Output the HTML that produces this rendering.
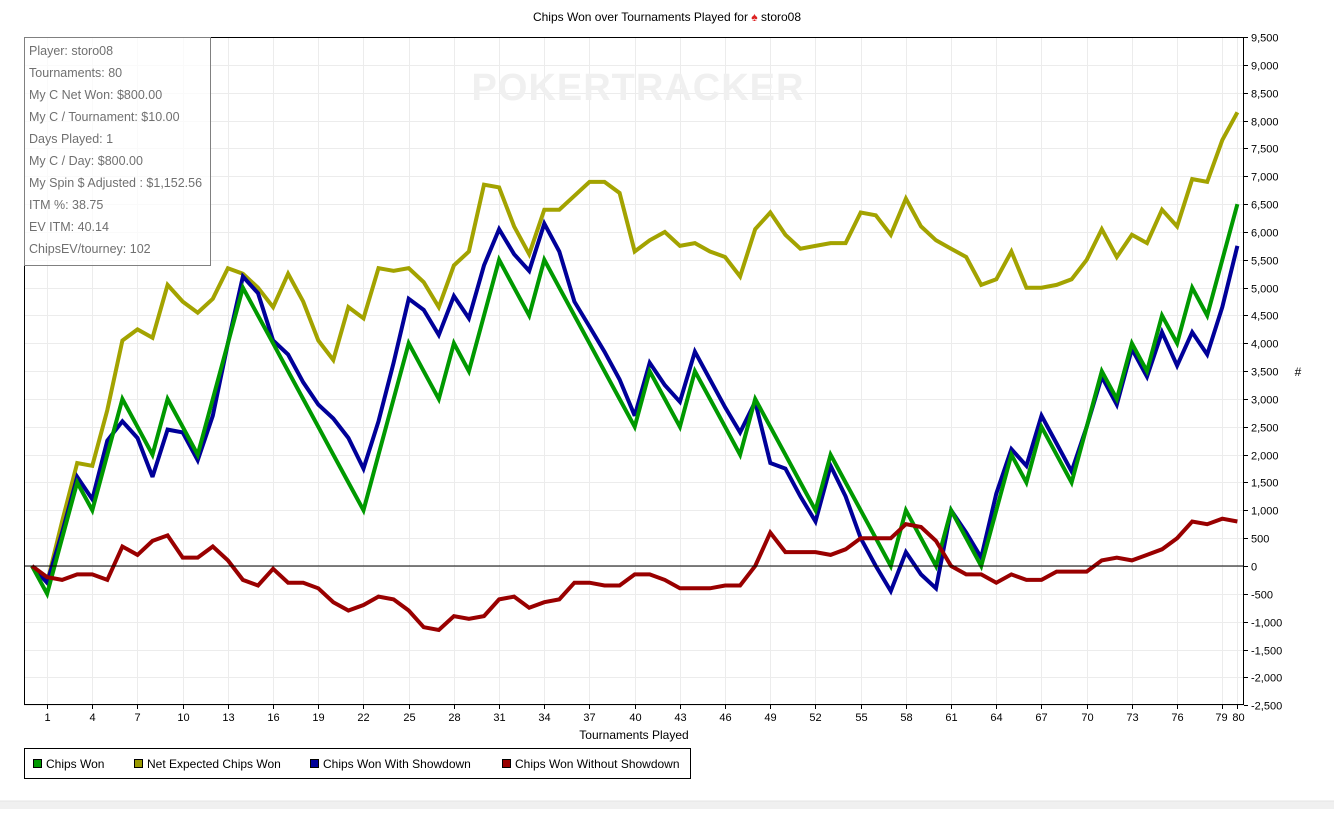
<!DOCTYPE html>
<html><head><meta charset="utf-8"><style>
html,body{margin:0;padding:0;background:#fff;}
body{width:1334px;height:809px;overflow:hidden;position:relative;font-family:"Liberation Sans",sans-serif;}
svg text{font-family:"Liberation Sans",sans-serif;}
</style></head><body>
<svg id="s" width="1334" height="809" xmlns="http://www.w3.org/2000/svg">
<rect x="0" y="801" width="1334" height="8" fill="#f0f0f0"/>
<line x1="0" y1="801" x2="1334" y2="801" stroke="#e4e4e4"/>
<g id="grid"></g>
<text x="638" y="100" font-size="38" font-weight="bold" fill="#f0f0f0" text-anchor="middle" letter-spacing="1">POKERTRACKER</text>
<g id="series"></g>
<rect x="24.5" y="37.5" width="1219" height="667" fill="none" stroke="#000"/>
<line x1="24" y1="566" x2="1244" y2="566" stroke="#000"/>
<g id="axes"></g>
<text x="667" y="21" font-size="12" text-anchor="middle">Chips Won over Tournaments Played for <tspan fill="#d22">♠</tspan> storo08</text>
<text x="634" y="739" font-size="12" text-anchor="middle">Tournaments Played</text>
<text x="1298" y="376" font-size="12" text-anchor="middle">#</text>
<rect x="24.5" y="37.5" width="186" height="228" fill="#fff" fill-opacity="0.75" stroke="#808080"/>
<g font-size="12.5" fill="#707070" font-family="Liberation Sans">
<text x="29" y="55">Player: storo08</text>
<text x="29" y="77">Tournaments: 80</text>
<text x="29" y="99">My C Net Won: $800.00</text>
<text x="29" y="121">My C / Tournament: $10.00</text>
<text x="29" y="143">Days Played: 1</text>
<text x="29" y="165">My C / Day: $800.00</text>
<text x="29" y="187">My Spin $ Adjusted : $1,152.56</text>
<text x="29" y="209">ITM %: 38.75</text>
<text x="29" y="231">EV ITM: 40.14</text>
<text x="29" y="253">ChipsEV/tourney: 102</text>
</g>
<rect x="24.5" y="748.5" width="666" height="30" fill="#fff" stroke="#000"/>
<g font-size="12">
<rect x="33.5" y="759.5" width="8" height="8" fill="#009900" stroke="#000"/><text x="46" y="768">Chips Won</text>
<rect x="134.5" y="759.5" width="8" height="8" fill="#999900" stroke="#000"/><text x="147" y="768">Net Expected Chips Won</text>
<rect x="310.5" y="759.5" width="8" height="8" fill="#000099" stroke="#000"/><text x="323" y="768">Chips Won With Showdown</text>
<rect x="502.5" y="759.5" width="8" height="8" fill="#990000" stroke="#000"/><text x="515" y="768">Chips Won Without Showdown</text>
</g>
</svg>
<script>
var NS="http://www.w3.org/2000/svg";
function el(p,t,a,txt){var e=document.createElementNS(NS,t);for(var k in a)e.setAttribute(k,a[k]);if(txt!==undefined)e.textContent=txt;p.appendChild(e);return e;}
function X(i){return 32+15.067*i;}
function Y(v){return 566-v*0.05567;}
var grid=document.getElementById('grid'),axes=document.getElementById('axes'),ser=document.getElementById('series');
for(var v=-2500;v<=9500;v+=500){var y=Math.round(Y(v))+0.5;
 el(grid,'line',{x1:24,x2:1244,y1:y,y2:y,stroke:'#ececec'});
 el(axes,'line',{x1:1244,x2:1248,y1:y,y2:y,stroke:'#000'});
 el(axes,'text',{x:1251,y:y+4,'font-size':11},v.toLocaleString('en-US'));}
var xt=[];for(var t=1;t<=79;t+=3)xt.push(t);xt.push(80);
xt.forEach(function(t){var x=Math.round(X(t))+0.5;
 el(grid,'line',{x1:x,x2:x,y1:37,y2:705,stroke:'#ececec'});
 el(axes,'line',{x1:x,x2:x,y1:705,y2:709,stroke:'#000'});
 el(axes,'text',{x:(t==79?x-1:(t==80?x+1:x)),y:721,'font-size':11,'text-anchor':'middle'},String(t));});
var yel=[0,-300,800,1850,1800,2800,4050,4250,4100,5050,4750,4550,4800,5350,5250,5000,4650,5250,4750,4050,3700,4650,4450,5350,5300,5350,5100,4650,5400,5650,6850,6800,6100,5600,6400,6400,6650,6900,6900,6700,5650,5850,6000,5750,5800,5650,5550,5200,6050,6350,5950,5700,5750,5800,5800,6350,6300,5950,6600,6100,5850,5700,5550,5050,5150,5650,5000,5000,5050,5150,5500,6050,5550,5950,5800,6400,6100,6950,6900,7650,8150];
var grn=[0,-500,500,1500,1000,2000,3000,2500,2000,3000,2500,2000,3000,4000,5000,4500,4000,3500,3000,2500,2000,1500,1000,2000,3000,4000,3500,3000,4000,3500,4500,5500,5000,4500,5500,5000,4500,4000,3500,3000,2500,3500,3000,2500,3500,3000,2500,2000,3000,2500,2000,1500,1000,2000,1500,1000,500,0,1000,500,0,1000,500,0,1000,2000,1500,2500,2000,1500,2500,3500,3000,4000,3500,4500,4000,5000,4500,5500,6500];
var blu=[0,-300,600,1600,1200,2250,2600,2300,1600,2450,2400,1900,2700,4000,5200,4900,4050,3800,3300,2900,2650,2300,1750,2600,3650,4800,4600,4150,4850,4450,5400,6050,5600,5300,6150,5650,4750,4300,3850,3350,2700,3650,3250,2950,3850,3350,2850,2400,2950,1850,1750,1250,800,1800,1250,500,0,-450,250,-150,-400,1000,600,150,1300,2100,1800,2700,2200,1700,2500,3400,2900,3900,3400,4200,3600,4200,3800,4650,5750];
var red=[0,-200,-250,-150,-150,-250,350,200,450,550,150,150,350,100,-250,-350,-50,-300,-300,-400,-650,-800,-700,-550,-600,-800,-1100,-1150,-900,-950,-900,-600,-550,-750,-650,-600,-300,-300,-350,-350,-150,-150,-250,-400,-400,-400,-350,-350,0,600,250,250,250,200,300,500,500,500,750,700,450,0,-150,-150,-300,-150,-250,-250,-100,-100,-100,100,150,100,200,300,500,800,750,850,800];
function line(d,c){el(ser,'polyline',{points:d.map(function(v,i){return X(i).toFixed(1)+','+Y(v).toFixed(1);}).join(' '),fill:'none',stroke:c,'stroke-width':4,'stroke-linejoin':'miter','stroke-miterlimit':3});}
line(yel,'#a3a300');line(blu,'#000099');line(grn,'#009900');line(red,'#990000');
</script>
</body></html>
